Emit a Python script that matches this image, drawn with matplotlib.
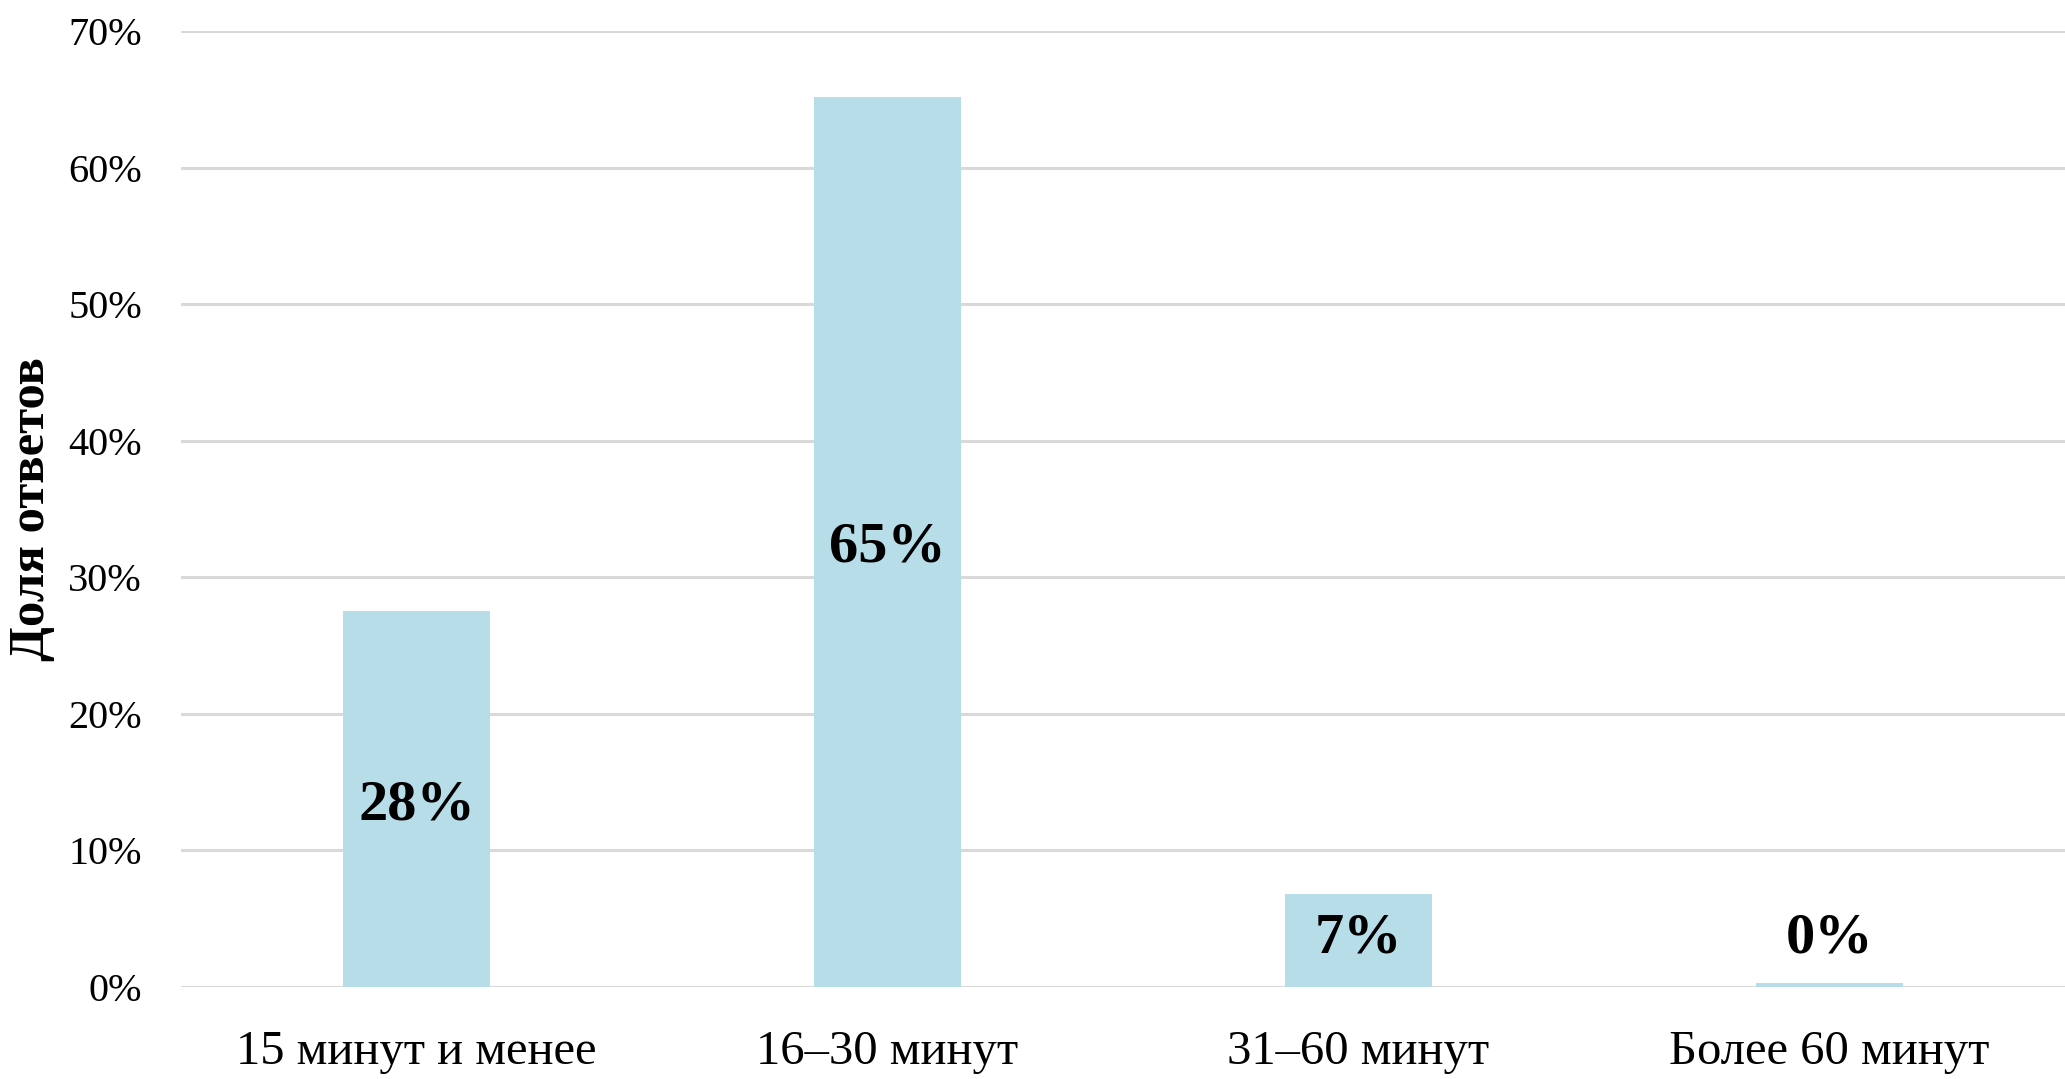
import matplotlib
matplotlib.use("Agg")
import matplotlib.pyplot as plt
from matplotlib.ticker import FuncFormatter, MultipleLocator

categories = ["15 минут и менее", "16–30 минут", "31–60 минут", "Более 60 минут"]
values = [27.5, 65.2, 6.8, 0.3]
labels = ["28%", "65%", "7%", "0%"]
ylabel = "Доля ответов"

plt.rcParams['font.family'] = ['Liberation Serif', 'DejaVu Serif']

fig = plt.figure(figsize=(20.65, 10.79), dpi=100)
ax = fig.add_axes([181/2065, 1 - 987/1079, 1 - 181/2065, (987 - 31)/1079])

x = list(range(len(categories)))
ax.bar(x, values, width=0.314, color="#B7DDE8", zorder=3)

for xi, v, lab in zip(x, values, labels):
    ax.text(xi, max(v / 2, 4.0), lab, ha="center", va="center_baseline",
            fontsize=42, fontweight="bold", color="black", zorder=4)

ax.set_xlim(-0.5, len(categories) - 0.5)
ax.set_ylim(0, 70)
ax.yaxis.set_major_locator(MultipleLocator(10))
ax.yaxis.set_major_formatter(FuncFormatter(lambda v, p: f"{v:.0f}%"))
ax.set_xticks(x)
ax.set_xticklabels(categories, fontsize=35)
ax.tick_params(axis="y", labelsize=29, length=0, pad=28)
ax.tick_params(axis="x", length=0, pad=31)

ax.grid(axis="y", color="#d9d9d9", linewidth=2.2, zorder=0)
ax.set_axisbelow(True)
for s in ax.spines.values():
    s.set_visible(False)

ax.set_ylabel(ylabel, fontsize=36.5, fontweight="bold")
ax.yaxis.set_label_coords(-0.067, 0.5)

fig.savefig("out.png", dpi=100, facecolor="white")
